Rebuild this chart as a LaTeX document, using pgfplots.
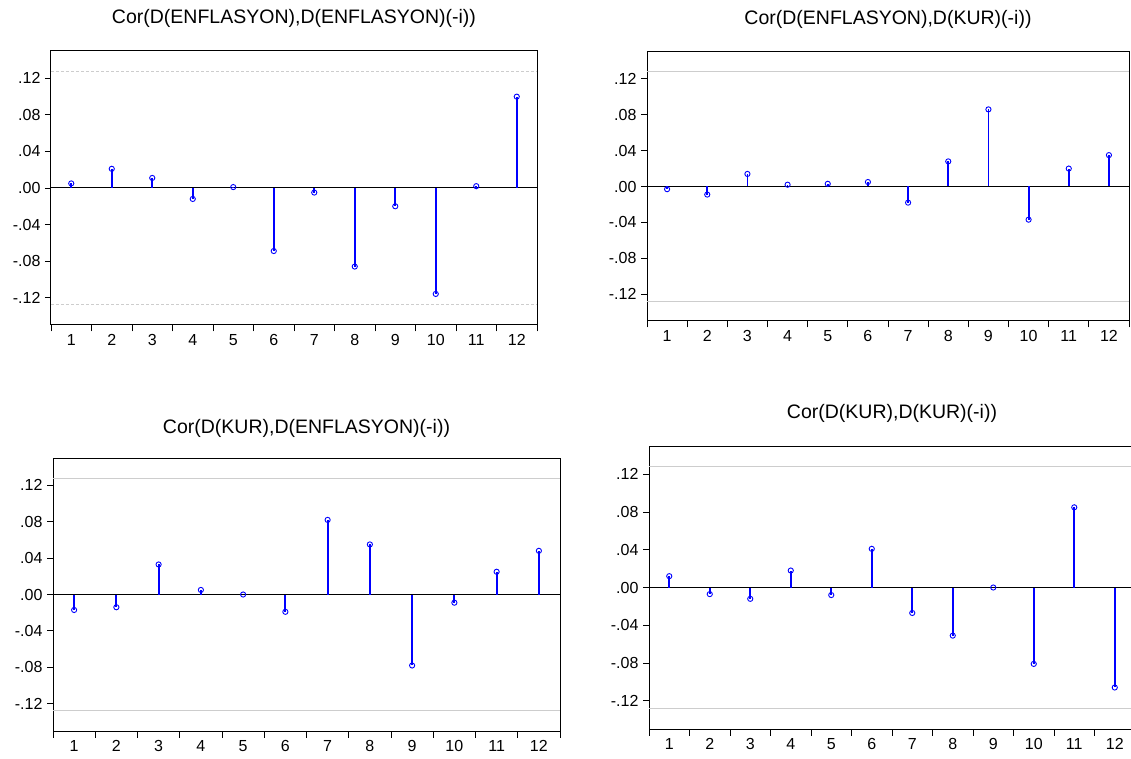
\documentclass[border=0pt]{standalone}
\usepackage{pgfplots}
\pgfplotsset{compat=1.18}
\usepackage{fontspec}
\setmainfont{Liberation Sans}

\definecolor{stemblue}{RGB}{0,0,255}
\definecolor{band}{RGB}{205,205,205}

\pgfplotsset{
  ccf/.style={
    scale only axis,
    anchor=south west,
    xmin=0.5, xmax=12.5,
    ymin=-0.15, ymax=0.15,
    axis line style={black, line width=1pt},
    tick align=outside,
    xtick={1,...,12},
    xticklabels={1,2,3,4,5,6,7,8,9,10,11,12},
    major x tick style={draw=none},
    minor xtick={0.5,1.5,...,12.5},
    minor tick length=6.5pt,
    minor x tick style={black, line width=0.9pt},
    ytick={-0.12,-0.08,-0.04,0,0.04,0.08,0.12},
    yticklabels={-.12,-.08,-.04,.00,.04,.08,.12},
    major tick length=6pt,
    ytick pos=left, xtick pos=bottom,
    ytick style={black, line width=0.9pt},
    tick label style={font=\fontsize{16}{18}\selectfont},
    yticklabel style={xshift=-1pt},
    title style={at={(0.5,1)}, anchor=center, yshift=27pt, font=\fontsize{19.5}{23}\selectfont},
    clip=false,
  },
  stems/.style={stemblue, ycomb, line width=1.8pt, mark=o, mark size=2.6pt,
    mark options={fill=white, line width=0.9pt, solid}},
  bands/.style={band, line width=1pt},
}

\begin{document}
\begin{tikzpicture}
\useasboundingbox (0,0) rectangle (1131pt,758pt);

% top left
\begin{axis}[ccf, at={(51pt,433pt)}, width=486pt, height=274pt,
  title={Cor(D(ENFLASYON),D(ENFLASYON)(-i))}]
\addplot[bands, densely dashed] coordinates {(0.5,0.128) (12.5,0.128)};
\addplot[bands, densely dashed] coordinates {(0.5,-0.128) (12.5,-0.128)};
\addplot[black, line width=1pt] coordinates {(0.5,0) (12.5,0)};
\addplot[stems] coordinates {
(1,0.005) (2,0.021) (3,0.011) (4,-0.012) (5,0.001) (6,-0.069)
(7,-0.005) (8,-0.086) (9,-0.020) (10,-0.116) (11,0.002) (12,0.100)};
\end{axis}

% top right
\begin{axis}[ccf, at={(647pt,437pt)}, width=482pt, height=269pt,
  title={Cor(D(ENFLASYON),D(KUR)(-i))}]
\addplot[bands] coordinates {(0.5,0.128) (12.5,0.128)};
\addplot[bands] coordinates {(0.5,-0.128) (12.5,-0.128)};
\addplot[black, line width=1pt] coordinates {(0.5,0) (12.5,0)};
\addplot[stems] coordinates {
(1,-0.003) (2,-0.009) (3,0.014) (4,0.002) (5,0.003) (6,0.005)
(7,-0.018) (8,0.028) (9,0.086) (10,-0.037) (11,0.020) (12,0.035)};
\end{axis}

% bottom left
\begin{axis}[ccf, at={(53pt,27pt)}, width=507pt, height=273pt,
  title style={yshift=-3pt},
  title={Cor(D(KUR),D(ENFLASYON)(-i))}]
\addplot[bands] coordinates {(0.5,0.128) (12.5,0.128)};
\addplot[bands] coordinates {(0.5,-0.128) (12.5,-0.128)};
\addplot[black, line width=1pt] coordinates {(0.5,0) (12.5,0)};
\addplot[stems] coordinates {
(1,-0.017) (2,-0.014) (3,0.033) (4,0.005) (5,0.000) (6,-0.019)
(7,0.082) (8,0.055) (9,-0.078) (10,-0.009) (11,0.025) (12,0.048)};
\end{axis}

% bottom right
\begin{axis}[ccf, at={(649pt,29pt)}, width=486pt, height=283pt,
  title={Cor(D(KUR),D(KUR)(-i))}]
\addplot[bands] coordinates {(0.5,0.128) (12.5,0.128)};
\addplot[bands] coordinates {(0.5,-0.128) (12.5,-0.128)};
\addplot[black, line width=1pt] coordinates {(0.5,0) (12.5,0)};
\addplot[stems] coordinates {
(1,0.012) (2,-0.007) (3,-0.012) (4,0.018) (5,-0.008) (6,0.041)
(7,-0.027) (8,-0.051) (9,0.000) (10,-0.081) (11,0.085) (12,-0.106)};
\end{axis}
\end{tikzpicture}
\end{document}
